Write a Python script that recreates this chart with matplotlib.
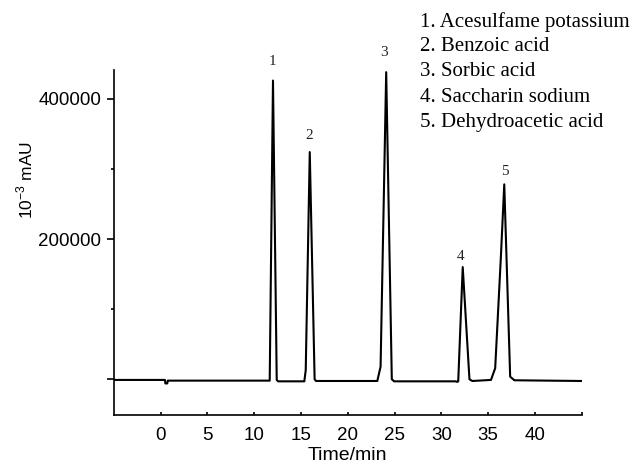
import matplotlib
matplotlib.use("Agg")
import matplotlib.pyplot as plt

plt.rcParams['font.family'] = ['Liberation Sans', 'DejaVu Sans']

# chromatogram trace (min, 10^-3 mAU)
time_min = [-5, 0.45, 0.5, 0.7, 0.75, 11.65, 12.0, 12.4, 12.55, 15.35, 15.5, 15.93,
            16.45, 16.6, 23.15, 23.5, 24.1, 24.7, 24.95, 31.5, 31.7, 31.8, 32.28,
            33.0, 33.3, 35.3, 35.75, 36.36, 36.72, 37.35, 37.8, 45]
signal = [-1000, -1000, -6000, -6000, -2000, -2000, 426000, -1000, -3000, -3000, 13000, 324000,
          0, -2500, -2500, 18000, 438000, 0, -3000, -3000, -3800, -3000, 160000,
          0, -2500, -1000, 15700, 175000, 278000, 3700, -1500, -2500]

peak_nums = ['1', '2', '3', '4', '5']
peak_x = [11.95, 15.9, 23.9, 32.0, 36.8]
peak_y = [453000, 348000, 466000, 175000, 297000]
compounds = ['Acesulfame potassium', 'Benzoic acid', 'Sorbic acid',
             'Saccharin sodium', 'Dehydroacetic acid']

xticks = [0, 5, 10, 15, 20, 25, 30, 35, 40, 45]
xticklabels = ['0', '5', '10', '15', '20', '25', '30', '35', '40', '']
yticks = [0, 200000, 400000]
yticklabels = ['', '200000', '400000']
yminor = [100000, 300000]

fig = plt.figure(figsize=(6.33, 4.63), dpi=100)
ax = fig.add_axes([0.180, 0.1037, 0.739, 0.745])

ax.plot(time_min, signal, color='black', lw=1.5)

ax.set_xlim(-5, 45)
ax.set_ylim(-51000, 441000)
ax.spines['top'].set_visible(False)
ax.spines['right'].set_visible(False)
ax.spines['left'].set_linewidth(1.2)
ax.spines['bottom'].set_linewidth(1.2)

ax.set_xticks(xticks)
ax.set_xticklabels(xticklabels)
ax.set_yticks(yticks)
ax.set_yticklabels(yticklabels)
ax.set_yticks(yminor, minor=True)
ax.tick_params(axis='x', direction='in', length=2.5, width=1.2, pad=8.5, labelsize=13.5)
ax.tick_params(axis='y', which='major', direction='out', length=5, width=1.2, pad=4, labelsize=13.5)
ax.tick_params(axis='y', which='minor', direction='out', length=2.5, width=1.2)

for n, x, y in zip(peak_nums, peak_x, peak_y):
    ax.text(x, y, n, ha='center', va='center', fontsize=11, family='Liberation Serif',
            color='#222222', clip_on=False)

for i, name in enumerate(compounds):
    fig.text(420 / 633, 1 - (21.7 + 25.1 * i) / 463, f'{i + 1}. {name}',
             ha='left', va='center', fontsize=15, family='Liberation Serif')

fig.text(25 / 633, 1 - 180 / 463, r'10$^{\mathregular{-3}}$ mAU', rotation=90,
         ha='center', va='center', fontsize=12.5)
fig.text(347 / 633, 1 - 456 / 463, 'Time/min', ha='center', va='center', fontsize=14)

fig.savefig('out.png', dpi=100)
